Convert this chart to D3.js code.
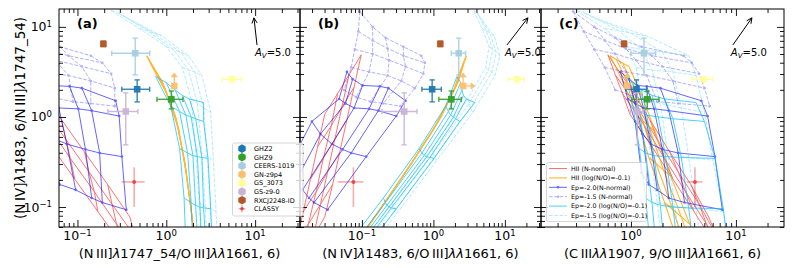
<!DOCTYPE html>
<html>
<head>
<meta charset="utf-8">
<script src="https://cdn.jsdelivr.net/npm/d3@7"></script>
<style>
body { margin: 0; background: #fff; }
svg { display: block; font-family: "DejaVu Sans", sans-serif; }
</style>
</head>
<body>
<svg id="chart" width="793" height="268"></svg>
<script>
// ---- observed objects ----
var objNames  = ["GHZ2", "GHZ9", "CEERS-1019", "GN-z9p4", "GS_3073", "GS-z9-0", "RXCJ2248-ID", "CLASSY"];
var objColors = ["#1f78b4", "#33a02c", "#a6cee3", "#fdbf6f", "#ffff99", "#cab2d6", "#b15928", "#e31a1c"];

// N IV]/N III] (shared y of all panels)
var objY   = [2.03, 1.57, 5.1, 2.21, 2.62, 1.15, 6.47, 0.19];
var objYlo = [1.47, 1.23, 2.93, null, null, 0.49, 6.05, 0.10];
var objYhi = [2.58, 1.94, 7.5, null, null, 1.85, 6.95, 0.276];

// (a) N III]/O III]
var objXa   = [0.47, 1.14, 0.447, 1.23, 5.5, 0.35, 0.196, 0.435];
var objXaLo = [0.316, 0.785, 0.243, null, 4.26, 0.22, 0.186, 0.316];
var objXaHi = [0.65, 1.54, 0.65, null, 6.98, 0.48, 0.206, 0.57];
// (b) N IV]/O III]
var objXb   = [0.96, 1.78, 2.26, 2.6, 14.8, 0.39, 1.25, 0.076];
var objXbLo = [0.69, 1.19, 1.78, null, 11.2, 0.19, 1.20, 0.046];
var objXbHi = [1.29, 2.45, 2.82, null, 18.6, 0.59, 1.30, 0.105];
// (c) C III]/O III]
var objXc   = [1.13, 1.43, 1.33, 0.92, 4.9, 1.15, 0.86, 4.07];
var objXcLo = [0.90, 1.02, 1.0, null, 3.8, 0.98, 0.83, 3.4];
var objXcHi = [1.41, 1.85, 1.72, null, 6.0, 1.32, 0.89, 4.8];

// GN-z9p4 lower limits (arrow ends)
var limitIndex = 3;
var limitYTo = 3.08;
var limitXbTo = 3.82;

// ---- model grids: rows of nodes, log10 [N III]/O III], N IV]/N III], C III]/O III]] ----
var hiiNormal = [
  [[-1.70, 0.69, -0.22], [-1.65, 0.47, -0.15], [-1.60, 0.26, -0.08], [-1.55, 0.03, -0.01]],
  [[-1.44, 0.33, -0.01], [-1.39, 0.11, 0.06], [-1.33, -0.10, 0.13], [-1.29, -0.33, 0.20]],
  [[-1.18, -0.03, 0.18], [-1.13, -0.25, 0.25], [-1.08, -0.46, 0.32], [-1.03, -0.69, 0.40]],
  [[-0.92, -0.39, 0.37], [-0.87, -0.61, 0.45], [-0.81, -0.83, 0.52], [-0.77, -1.05, 0.60]],
  [[-0.66, -0.75, 0.57], [-0.61, -0.97, 0.65], [-0.56, -1.19, 0.72], [-0.51, -1.41, 0.80]],
  [[-0.41, -1.11, 0.74], [-0.35, -1.33, 0.82], [-0.30, -1.55, 0.89], [-0.25, -1.77, 0.97]]
];
var hiiNrich = [
  [[-0.22, 0.68, -0.20], [-0.20, 0.64, -0.14], [-0.18, 0.60, -0.08], [-0.16, 0.56, -0.02]],
  [[-0.05, 0.40, -0.08], [-0.03, 0.35, -0.02], [-0.01, 0.30, 0.04], [0.01, 0.25, 0.10]],
  [[0.10, 0.02, 0.05], [0.115, -0.04, 0.11], [0.13, -0.10, 0.17], [0.145, -0.16, 0.23]],
  [[0.20, -0.45, 0.17], [0.21, -0.52, 0.24], [0.22, -0.59, 0.31], [0.23, -0.66, 0.38]],
  [[0.27, -0.95, 0.32], [0.28, -1.03, 0.40], [0.29, -1.11, 0.48], [0.30, -1.19, 0.56]],
  [[0.32, -1.40, 0.45], [0.33, -1.48, 0.53], [0.34, -1.56, 0.61], [0.35, -1.64, 0.69]]
];
var epNormal20 = [
  [[-1.71, 0.50, -0.10], [-1.55, 0.42, -0.02], [-1.34, 0.35, 0.06], [-1.09, 0.34, 0.15], [-0.95, 0.32, 0.28], [-0.57, 0.18, 0.67]],
  [[-1.52, 0.20, -0.03], [-1.38, 0.15, 0.04], [-1.21, 0.10, 0.12], [-0.99, 0.09, 0.22], [-0.84, 0.07, 0.36], [-0.53, 0.01, 0.73]],
  [[-1.65, -0.05, 0.04], [-1.39, -0.19, 0.11], [-1.12, -0.30, 0.19], [-0.91, -0.36, 0.30], [-0.75, -0.40, 0.45], [-0.50, -0.44, 0.80]],
  [[-1.45, -0.62, 0.10], [-1.20, -0.75, 0.17], [-1.02, -0.81, 0.25], [-0.84, -0.90, 0.36], [-0.72, -0.95, 0.51], [-0.45, -1.03, 0.87]]
];
var epNormal15 = [
  [[-2.20, 1.17, -0.55], [-1.85, 1.00, -0.35], [-1.55, 0.88, -0.15], [-1.20, 0.78, 0.10], [-0.85, 0.68, 0.50]],
  [[-2.00, 0.95, -0.45], [-1.70, 0.85, -0.25], [-1.40, 0.76, -0.05], [-1.10, 0.68, 0.20], [-0.72, 0.60, 0.58]],
  [[-1.85, 0.75, -0.35], [-1.55, 0.70, -0.15], [-1.25, 0.63, 0.05], [-0.95, 0.56, 0.30], [-0.62, 0.48, 0.65]],
  [[-1.70, 0.55, -0.25], [-1.40, 0.50, -0.05], [-1.10, 0.46, 0.15], [-0.85, 0.40, 0.40], [-0.58, 0.32, 0.70]],
  [[-1.55, 0.30, -0.15], [-1.30, 0.22, 0.05], [-1.05, 0.17, 0.25], [-0.85, 0.15, 0.45], [-0.58, 0.12, 0.75]]
];
var epRich20 = [
  [[-0.12, 0.45, -0.05], [0.00, 0.38, 0.02], [0.10, 0.30, 0.10], [0.18, 0.24, 0.20], [0.26, 0.20, 0.32], [0.42, 0.16, 0.62]],
  [[0.05, 0.12, 0.02], [0.15, 0.06, 0.08], [0.22, 0.02, 0.15], [0.28, 0.00, 0.26], [0.33, -0.02, 0.40], [0.42, -0.05, 0.70]],
  [[0.15, -0.35, 0.08], [0.24, -0.40, 0.14], [0.30, -0.43, 0.22], [0.35, -0.44, 0.33], [0.40, -0.45, 0.48], [0.47, -0.46, 0.80]],
  [[0.20, -0.90, 0.14], [0.28, -0.95, 0.20], [0.33, -0.98, 0.28], [0.38, -1.00, 0.40], [0.42, -1.01, 0.55], [0.50, -1.02, 0.88]],
  [[0.22, -1.40, 0.18], [0.30, -1.45, 0.24], [0.36, -1.48, 0.32], [0.40, -1.50, 0.45], [0.45, -1.50, 0.60], [0.52, -1.50, 0.93]]
];
var epRich15 = [
  [[-0.62, 1.18, -0.52], [-0.55, 1.16, -0.45], [-0.48, 1.12, -0.38], [-0.40, 1.08, -0.30]],
  [[-0.30, 0.98, -0.25], [-0.22, 0.96, -0.12], [-0.14, 0.93, 0.00], [-0.05, 0.90, 0.15]],
  [[0.00, 0.78, -0.05], [0.08, 0.75, 0.10], [0.16, 0.72, 0.30], [0.25, 0.68, 0.55]],
  [[0.18, 0.55, 0.05], [0.25, 0.52, 0.20], [0.32, 0.50, 0.40], [0.40, 0.46, 0.62]],
  [[0.28, 0.20, 0.10], [0.35, 0.15, 0.28], [0.42, 0.10, 0.48], [0.50, 0.05, 0.70]],
  [[0.33, -0.35, 0.18], [0.40, -0.40, 0.35], [0.46, -0.45, 0.55], [0.53, -0.48, 0.78]],
  [[0.37, -0.95, 0.25], [0.44, -1.00, 0.42], [0.50, -1.02, 0.62], [0.56, -1.05, 0.88]],
  [[0.40, -1.45, 0.30], [0.46, -1.50, 0.48], [0.52, -1.52, 0.68], [0.58, -1.55, 0.95]]
];

var modelLabels = ["HII (N-normal)", "HII (log(N/O)=-0.1)", "Ep=-2.0(N-normal)", "Ep=-1.5 (N-normal)",
                   "Ep=-2.0 (log(N/O)=-0.1)", "Ep=-1.5 (log(N/O)=-0.1)"];

// A_V = 5 reddening vectors per panel: [x0, y0, x1, y1]
var avVectors = [[10.5, 6.3, 9.7, 12.6], [10.7, 6.3, 21, 12.6], [9.35, 6.3, 14.2, 12.6]];

// ---- layout ----
var plotTop = 9, plotBottom = 227;
var panelLeft = [59, 300, 541];
var panelRight = [300, 541, 784];
var xDomains = [[0.062, 32], [0.0136, 32], [0.139, 28.7]];
var yDomain = [0.06, 15.8];
var panelTags = ["(a)", "(b)", "(c)"];

var models = [
  {grid: hiiNormal, color: "red", opacity: 0.55, width: 1, dash: null, marker: false},
  {grid: hiiNrich, color: "orange", opacity: 0.8, width: 1.1, dash: null, marker: false},
  {grid: epNormal20, color: "blue", opacity: 0.6, width: 1, dash: null, marker: true},
  {grid: epNormal15, color: "blue", opacity: 0.3, width: 1, dash: "3.7,1.6", marker: true},
  {grid: epRich20, color: "deepskyblue", opacity: 0.7, width: 1, dash: null, marker: false},
  {grid: epRich15, color: "deepskyblue", opacity: 0.3, width: 1, dash: "3.7,1.6", marker: false}
];

var xLabels = [
  [["(N\u2009III]", 0], ["\u03bb", 1], ["1747_54/O\u2009III]", 0], ["\u03bb\u03bb", 1], ["1661, 6)", 0]],
  [["(N\u2009IV]", 0], ["\u03bb", 1], ["1483, 6/O\u2009III]", 0], ["\u03bb\u03bb", 1], ["1661, 6)", 0]],
  [["(C\u2009III", 0], ["\u03bb\u03bb", 1], ["1907, 9/O\u2009III]", 0], ["\u03bb\u03bb", 1], ["1661, 6)", 0]]
];
var yLabel = [["(N\u2009IV]", 0], ["\u03bb", 1], ["1483, 6/N\u2009III]", 0], ["\u03bb", 1], ["1747_54)", 0]];

var svg = d3.select("#chart");
var y = d3.scaleLog().domain(yDomain).range([plotBottom, plotTop]);

function logTicks(domain) {
  var lo = Math.floor(Math.log10(domain[0])), hi = Math.ceil(Math.log10(domain[1]));
  var major = [], minor = [];
  for (var e = lo; e <= hi; e++) {
    var base = Math.pow(10, e);
    if (base >= domain[0] && base <= domain[1]) major.push(base);
    for (var k = 2; k < 10; k++) {
      var v = k * base;
      if (v >= domain[0] && v <= domain[1]) minor.push(v);
    }
  }
  return {major: major, minor: minor};
}

function powText(sel, v) {
  var e = Math.round(Math.log10(v));
  sel.text("10");
  sel.append("tspan").attr("dy", "-0.5em").attr("font-size", "8.5px")
    .text(e < 0 ? "\u2212" + (-e) : String(e));
}

function richText(sel, parts) {
  parts.forEach(function (p) {
    var t = sel.append("tspan").text(p[0]);
    if (p[1]) t.attr("font-style", "italic");
  });
}

function nodeXY(n, p) {
  var lx = p === 0 ? n[0] : (p === 1 ? n[0] + n[1] : n[2]);
  return [Math.pow(10, lx), Math.pow(10, n[1])];
}

var defs = svg.append("defs");

panelLeft.forEach(function (left, p) {
  var right = panelRight[p];
  var x = d3.scaleLog().domain(xDomains[p]).range([left, right]);

  defs.append("clipPath").attr("id", "clip" + p)
    .append("rect").attr("x", left).attr("y", plotTop)
    .attr("width", right - left).attr("height", plotBottom - plotTop);

  var g = svg.append("g").attr("clip-path", "url(#clip" + p + ")");
  var line = d3.line().x(function (d) { return x(d[0]); }).y(function (d) { return y(d[1]); });

  // model grids
  models.forEach(function (m) {
    var rows = m.grid.map(function (r) { return r.map(function (n) { return nodeXY(n, p); }); });
    var cols = d3.range(rows[0].length).map(function (j) { return rows.map(function (r) { return r[j]; }); });
    var mg = g.append("g").attr("opacity", m.opacity);
    rows.concat(cols).forEach(function (pts) {
      mg.append("path").attr("d", line(pts)).attr("fill", "none")
        .attr("stroke", m.color).attr("stroke-width", m.width)
        .attr("stroke-dasharray", m.dash);
    });
    if (m.marker) {
      rows.forEach(function (r) {
        r.forEach(function (d) {
          mg.append("circle").attr("cx", x(d[0])).attr("cy", y(d[1])).attr("r", 1.3).attr("fill", m.color);
        });
      });
    }
  });

  // observations
  var xv = [objXa, objXb, objXc][p], xlo = [objXaLo, objXbLo, objXcLo][p], xhi = [objXaHi, objXbHi, objXcHi][p];
  var og = svg.append("g").attr("clip-path", "url(#clip" + p + ")");
  objNames.forEach(function (name, i) {
    var col = objColors[i], cx = x(xv[i]), cy = y(objY[i]);
    var classy = name === "CLASSY";
    var eg = og.append("g").attr("stroke", col).attr("stroke-width", classy ? 1.6 : 1.4)
      .attr("opacity", classy ? 0.35 : 0.9);
    var cap = classy ? 0 : 2.6;
    if (xlo[i] !== null) {
      eg.append("line").attr("x1", x(xlo[i])).attr("x2", x(xhi[i])).attr("y1", cy).attr("y2", cy);
      if (cap) [xlo[i], xhi[i]].forEach(function (v) {
        eg.append("line").attr("x1", x(v)).attr("x2", x(v)).attr("y1", cy - cap).attr("y2", cy + cap);
      });
    }
    if (objYlo[i] !== null) {
      eg.append("line").attr("x1", cx).attr("x2", cx).attr("y1", y(objYlo[i])).attr("y2", y(objYhi[i]));
      if (cap) [objYlo[i], objYhi[i]].forEach(function (v) {
        eg.append("line").attr("x1", cx - cap).attr("x2", cx + cap).attr("y1", y(v)).attr("y2", y(v));
      });
    }
    if (i === limitIndex) {
      var ty = y(limitYTo);
      eg.append("line").attr("x1", cx).attr("x2", cx).attr("y1", cy).attr("y2", ty + 2);
      og.append("path").attr("d", "M" + (cx - 3) + "," + (ty + 4) + "L" + cx + "," + ty + "L" + (cx + 3) + "," + (ty + 4) + "Z")
        .attr("fill", col).attr("stroke", col).attr("stroke-width", 0.8);
      if (p === 1) {
        var tx = x(limitXbTo);
        eg.append("line").attr("x1", cx).attr("x2", tx - 2).attr("y1", cy).attr("y2", cy);
        og.append("path").attr("d", "M" + (tx - 4) + "," + (cy - 3) + "L" + tx + "," + cy + "L" + (tx - 4) + "," + (cy + 3) + "Z")
          .attr("fill", col).attr("stroke", col).attr("stroke-width", 0.8);
      }
    }
    if (classy) {
      og.append("circle").attr("cx", cx).attr("cy", cy).attr("r", 2).attr("fill", col).attr("opacity", 0.7);
    } else {
      og.append("rect").attr("x", cx - 3.3).attr("y", cy - 3.3).attr("width", 6.6).attr("height", 6.6)
        .attr("fill", col).attr("opacity", 0.95);
    }
  });

  // axes: ticks point inward on all four sides
  var tx = logTicks(xDomains[p]), ty = logTicks(yDomain);
  function tickStyle(ax) {
    ax.select(".domain").remove();
    ax.selectAll("line").attr("stroke", "#000").attr("stroke-width", 0.9);
  }
  [[tx.major, 7], [tx.minor, 4]].forEach(function (t) {
    svg.append("g").attr("transform", "translate(0," + plotBottom + ")")
      .call(d3.axisBottom(x).tickValues(t[0]).tickSize(-t[1]).tickFormat("")).call(tickStyle);
    svg.append("g").attr("transform", "translate(0," + plotTop + ")")
      .call(d3.axisTop(x).tickValues(t[0]).tickSize(-t[1]).tickFormat("")).call(tickStyle);
  });
  [[ty.major, 7], [ty.minor, 4]].forEach(function (t) {
    svg.append("g").attr("transform", "translate(" + left + ",0)")
      .call(d3.axisLeft(y).tickValues(t[0]).tickSize(-t[1]).tickFormat("")).call(tickStyle);
    svg.append("g").attr("transform", "translate(" + right + ",0)")
      .call(d3.axisRight(y).tickValues(t[0]).tickSize(-t[1]).tickFormat("")).call(tickStyle);
  });
  svg.append("rect").attr("x", left).attr("y", plotTop).attr("width", right - left)
    .attr("height", plotBottom - plotTop).attr("fill", "none").attr("stroke", "#000").attr("stroke-width", 1);

  tx.major.forEach(function (v) {
    svg.append("text").attr("x", x(v)).attr("y", 240).attr("text-anchor", "middle")
      .attr("font-size", "12.5px").call(powText, v);
  });
  if (p === 0) {
    ty.major.forEach(function (v) {
      svg.append("text").attr("x", 52).attr("y", y(v) + 4.5).attr("text-anchor", "end")
        .attr("font-size", "12.5px").call(powText, v);
    });
  }

  svg.append("text").attr("x", (left + right) / 2).attr("y", 258).attr("text-anchor", "middle")
    .attr("font-size", "13px").call(richText, xLabels[p]);

  svg.append("text").attr("x", left + 18).attr("y", 28).attr("font-size", "13px")
    .attr("font-weight", "bold").text(panelTags[p]);

  // reddening vector
  var av = avVectors[p];
  var x0 = x(av[0]), y0 = y(av[1]), x1 = x(av[2]), y1 = y(av[3]);
  var ang = Math.atan2(y1 - y0, x1 - x0);
  var ag = svg.append("g").attr("stroke", "#000").attr("stroke-width", 1).attr("fill", "none");
  ag.append("line").attr("x1", x0).attr("y1", y0).attr("x2", x1).attr("y2", y1);
  [-0.45, 0.45].forEach(function (da) {
    ag.append("line").attr("x1", x1).attr("y1", y1)
      .attr("x2", x1 - 6 * Math.cos(ang + da)).attr("y2", y1 - 6 * Math.sin(ang + da));
  });
  var at = svg.append("text").attr("x", x0 - 2).attr("y", y0 + 11).attr("font-size", "10px");
  at.append("tspan").attr("font-style", "italic").text("A");
  at.append("tspan").attr("font-style", "italic").attr("font-size", "7px").attr("dy", 2).text("V");
  at.append("tspan").attr("dy", -2).text("=5.0");
});

// y axis label
svg.append("text").attr("transform", "translate(25," + ((plotTop + plotBottom) / 2) + ") rotate(-90)")
  .attr("text-anchor", "middle").attr("font-size", "13.5px").call(richText, yLabel);

// legend (a): objects
var legA = svg.append("g");
legA.append("rect").attr("x", 232.5).attr("y", 143).attr("width", 70.5).attr("height", 73)
  .attr("rx", 2).attr("fill", "#fff").attr("fill-opacity", 0.8).attr("stroke", "#ccc").attr("stroke-width", 0.8);
objNames.forEach(function (name, i) {
  var ly = 148.6 + i * 8.6, lx = 242;
  if (name === "CLASSY") {
    legA.append("line").attr("x1", lx - 3.5).attr("x2", lx + 3.5).attr("y1", ly).attr("y2", ly)
      .attr("stroke", objColors[i]).attr("stroke-opacity", 0.35).attr("stroke-width", 1.5);
    legA.append("line").attr("x1", lx).attr("x2", lx).attr("y1", ly - 3.5).attr("y2", ly + 3.5)
      .attr("stroke", objColors[i]).attr("stroke-opacity", 0.35).attr("stroke-width", 1.5);
    legA.append("circle").attr("cx", lx).attr("cy", ly).attr("r", 1.8).attr("fill", objColors[i]).attr("opacity", 0.7);
  } else {
    var hex = d3.range(6).map(function (k) {
      var a = Math.PI / 6 + k * Math.PI / 3;
      return [lx + 4.3 * Math.cos(a), ly + 4.3 * Math.sin(a)];
    });
    legA.append("path").attr("d", "M" + hex.join("L") + "Z").attr("fill", objColors[i]);
  }
  legA.append("text").attr("x", 254).attr("y", ly + 2.3).attr("font-size", "6.5px").text(name);
});

// legend (c): models
var legC = svg.append("g");
legC.append("rect").attr("x", 546.5).attr("y", 162.5).attr("width", 100).attr("height", 59)
  .attr("rx", 2).attr("fill", "#fff").attr("fill-opacity", 0.8).attr("stroke", "#ccc").attr("stroke-width", 0.8);
models.forEach(function (m, i) {
  var ly = 168.5 + i * 9.4;
  var lg = legC.append("g").attr("opacity", m.opacity);
  lg.append("line").attr("x1", 549).attr("x2", 567).attr("y1", ly).attr("y2", ly)
    .attr("stroke", m.color).attr("stroke-width", m.width).attr("stroke-dasharray", m.dash);
  if (m.marker) lg.append("circle").attr("cx", 558).attr("cy", ly).attr("r", 1.3).attr("fill", m.color);
  legC.append("text").attr("x", 571).attr("y", ly + 2.3).attr("font-size", "6.3px").text(modelLabels[i]);
});
</script>
</body>
</html>
